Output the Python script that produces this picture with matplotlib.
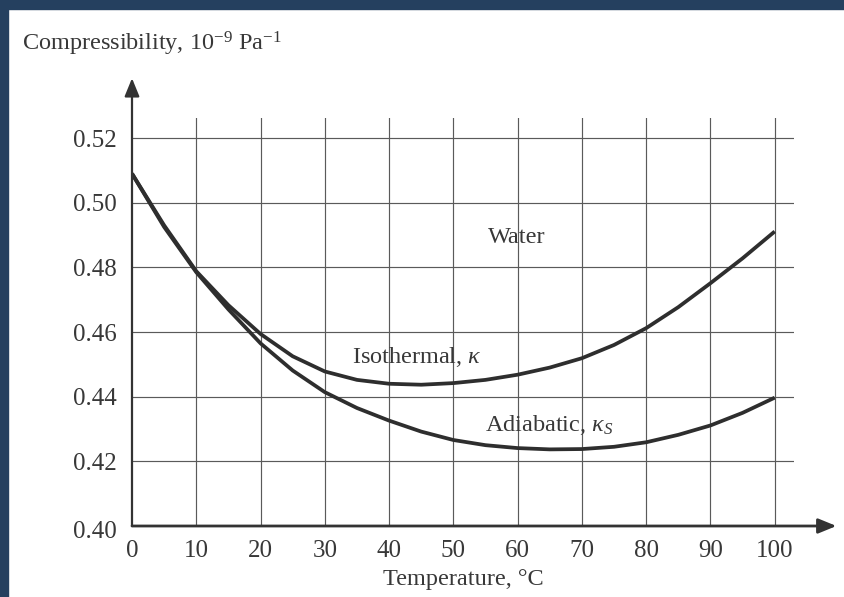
import matplotlib
matplotlib.use("Agg")
import matplotlib.pyplot as plt
from matplotlib.patches import Rectangle
import matplotlib.transforms as mtransforms

plt.rcParams['font.family'] = ['Liberation Serif', 'DejaVu Serif']
plt.rcParams['mathtext.fontset'] = 'custom'
plt.rcParams['mathtext.rm'] = 'Liberation Serif'
plt.rcParams['mathtext.it'] = 'Liberation Serif:italic'

# Data
temperature = [0, 5, 10, 15, 20, 25, 30, 35, 40, 45, 50, 55, 60, 65, 70, 75, 80, 85, 90, 95, 100]
isothermal = [0.509, 0.493, 0.4788, 0.4683, 0.4594, 0.4525, 0.4478, 0.4452, 0.4440, 0.4437, 0.4442,
              0.4452, 0.4468, 0.4490, 0.4519, 0.4560, 0.4612, 0.4677, 0.4751, 0.4828, 0.4911]
adiabatic = [0.509, 0.4925, 0.4785, 0.4670, 0.4565, 0.4481, 0.4414, 0.4365, 0.4326, 0.4292, 0.4266,
             0.4250, 0.4241, 0.4237, 0.4238, 0.4245, 0.4259, 0.4282, 0.4311, 0.4350, 0.4397]
x_ticks = [0, 10, 20, 30, 40, 50, 60, 70, 80, 90, 100]
y_ticks = [0.40, 0.42, 0.44, 0.46, 0.48, 0.50, 0.52]
y_tick_labels = ["0.40", "0.42", "0.44", "0.46", "0.48", "0.50", "0.52"]

W, H = 844, 597
fig = plt.figure(figsize=(W / 100, H / 100), dpi=100)
fig.patch.set_facecolor('white')

# dark frame band (left and top)
band = '#25405f'
fig.patches.append(Rectangle((0, 0), 8 / W, 1, transform=fig.transFigure, color=band, zorder=10))
fig.patches.append(Rectangle((0, 1 - 9 / H), 1, 9 / H, transform=fig.transFigure, color=band, zorder=10))

left_px, right_px = 132, 794
bottom_px, top_px = 526, 118
ax = fig.add_axes([left_px / W, 1 - bottom_px / H, (right_px - left_px) / W, (bottom_px - top_px) / H])
ax.set_xlim(0, 103)
ax.set_ylim(0.40, 0.5262)
for s in ax.spines.values():
    s.set_visible(False)

gcol = '#5a5a5a'
for yv in y_ticks[1:]:
    ax.axhline(yv, color=gcol, lw=0.85, zorder=1)
for xv in x_ticks[1:]:
    ax.axvline(xv, color=gcol, lw=0.85, zorder=1)

# axes with arrows
acol = '#333333'
ax.annotate('', xy=(109.6, 0.40), xytext=(0, 0.40), xycoords='data',
            arrowprops=dict(arrowstyle='-|>,head_length=1.1,head_width=0.45', color=acol, lw=2.0,
                            shrinkA=0, shrinkB=0), annotation_clip=False, zorder=5)
ax.annotate('', xy=(0, 0.5385), xytext=(0, 0.40), xycoords='data',
            arrowprops=dict(arrowstyle='-|>,head_length=1.1,head_width=0.45', color=acol, lw=1.6,
                            shrinkA=0, shrinkB=0), annotation_clip=False, zorder=5)

lcol = '#2e2e2e'
ax.plot(temperature, isothermal, color=lcol, lw=2.7, solid_capstyle='butt', solid_joinstyle='round', zorder=4)
ax.plot(temperature, adiabatic, color=lcol, lw=2.7, solid_capstyle='butt', solid_joinstyle='round', zorder=4)

tcol = '#383838'
ax.set_xticks(x_ticks)
ax.set_xticklabels([str(v) for v in x_ticks])
ax.set_yticks(y_ticks)
ax.set_yticklabels(y_tick_labels)
ax.tick_params(axis='both', length=0, labelsize=18, colors=tcol)
ax.tick_params(axis='x', pad=10)
ax.tick_params(axis='y', pad=11)
# the bottom y label sits slightly lower in the reference
lbl0 = ax.get_yticklabels()[0]
lbl0.set_transform(lbl0.get_transform() + mtransforms.ScaledTranslation(0, -4 / 100, fig.dpi_scale_trans))

ax.text(59.9, 0.4893, 'Water', fontsize=17.5, color=tcol, ha='center', va='center')
ax.text(34.2, 0.4522, 'Isothermal, $\\kappa$', fontsize=17.5, color=tcol, ha='left', va='center')
ax.text(54.9, 0.4312, 'Adiabatic, $\\kappa_S$', fontsize=17.5, color=tcol, ha='left', va='center')

ax.set_xlabel('Temperature, °C', fontsize=17.5, color=tcol, labelpad=5)
fig.text(22 / W, 1 - 44 / H, 'Compressibility, 10$^{-9}$ Pa$^{-1}$', fontsize=17.5, color=tcol,
         ha='left', va='center')

fig.savefig('out.png', dpi=100, facecolor='white')
